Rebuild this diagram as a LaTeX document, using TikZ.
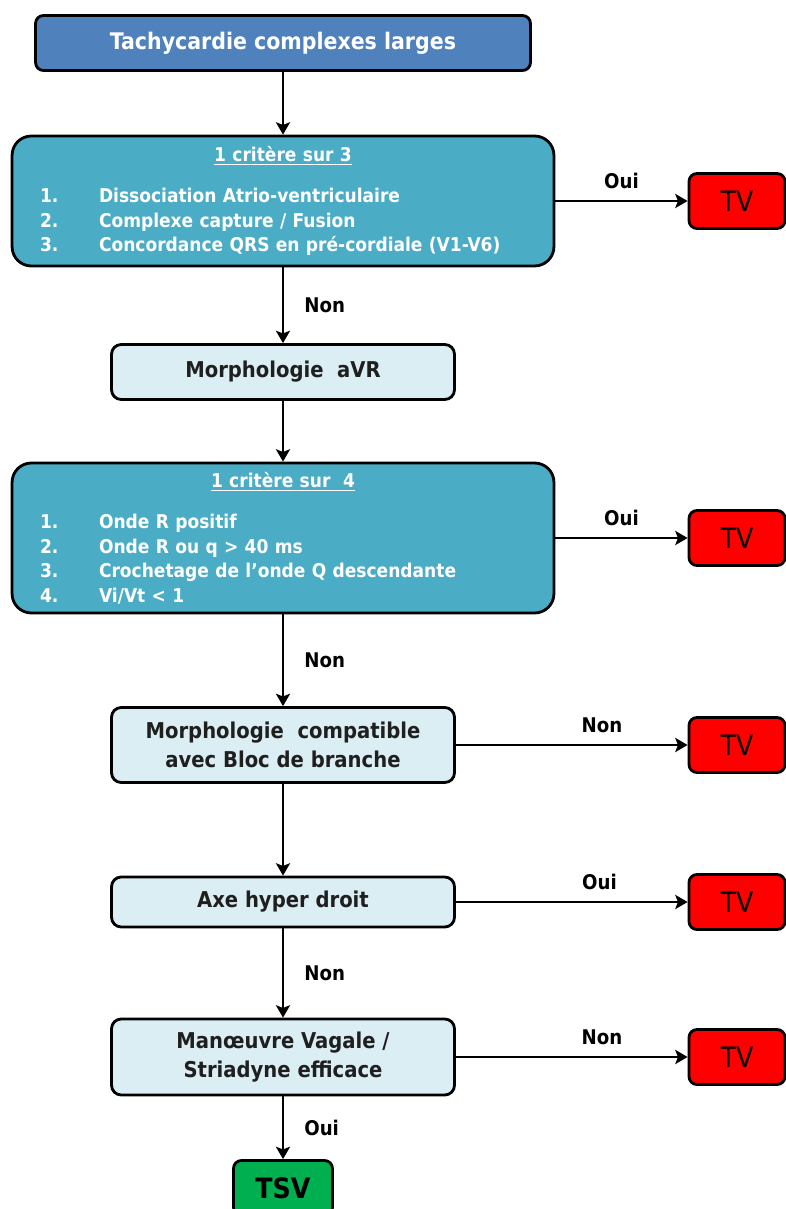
\documentclass[tikz,border=0pt]{standalone}
\usepackage{fontspec}
\setmainfont{DejaVu Sans Condensed}
\usepackage{tikz}
\usetikzlibrary{arrows.meta}
\usetikzlibrary{positioning}
\definecolor{titleblue}{HTML}{4F81BD}
\definecolor{critblue}{HTML}{4BACC6}
\definecolor{paleblue}{HTML}{DAEEF3}
\definecolor{tvred}{HTML}{FF0000}
\definecolor{tsvgreen}{HTML}{00B050}
\definecolor{darktext}{HTML}{1F1F1F}
\tikzstyle{titlebox} =
[
	draw,rectangle,line width=1.6pt,rounded corners=4.5pt,
	minimum width=9.9cm, minimum height=1.1cm,
	fill=titleblue, text=white,
	font=\fontsize{13}{15}\selectfont\bfseries
]
\tikzstyle{critbox} =
[
	draw,rectangle,line width=1.6pt,rounded corners=11pt,
	minimum width=10.84cm, inner xsep=0.56cm,
	text width=9.72cm, align=left,
	fill=critblue, text=white,
	font=\fontsize{10.8}{13.9}\selectfont\bfseries
]
\tikzstyle{stepbox} =
[
	draw,rectangle,line width=1.6pt,rounded corners=5.5pt,
	minimum width=6.86cm, align=center,
	fill=paleblue, text=darktext,
	font=\fontsize{12.4}{16.5}\selectfont\bfseries
]
\tikzstyle{tvbox} =
[
	draw,rectangle,line width=1.6pt,rounded corners=4.5pt,
	minimum width=1.92cm, minimum height=1.1cm,
	fill=tvred, font=\fontsize{16}{18}\selectfont
]
\tikzstyle{tsvbox} =
[
	draw,rectangle,line width=1.6pt,rounded corners=4.5pt,
	minimum width=1.98cm, minimum height=1.1cm,
	fill=tsvgreen, font=\fontsize{16}{18}\selectfont\bfseries
]
\tikzstyle{lab} = [font=\fontsize{11.5}{13}\selectfont\bfseries, text=black]

\begin{document}
\begin{tikzpicture}[->,>={Stealth[length=7pt,width=8pt,inset=1.5pt]},line width=1.6pt,x=0.02cm,y=-0.02cm]
\useasboundingbox (0,0) rectangle (786,1209);

\coordinate (col) at (737,0);

\node[titlebox] (T) at (283,43) {Tachycardie complexes larges};

\node[critbox, minimum height=2.6cm] (C1) at (283,201)
{\makebox[\linewidth]{\underline{1 critère sur 3}}\\[0.34cm]
\makebox[1.18cm][l]{1.}Dissociation Atrio-ventriculaire\\
\makebox[1.18cm][l]{2.}Complexe capture / Fusion\\
\makebox[1.18cm][l]{3.}Concordance QRS en pré-cordiale (V1-V6)};

\node[stepbox, minimum height=1.1cm] (M1) at (283,372) {Morphologie\ \ aVR};

\node[critbox, minimum height=3cm] (C2) at (283,538)
{\makebox[\linewidth]{\underline{1 critère sur\ \ 4}}\\[0.34cm]
\makebox[1.18cm][l]{1.}Onde R positif\\
\makebox[1.18cm][l]{2.}Onde R ou q > 40 ms\\
\makebox[1.18cm][l]{3.}Crochetage de l’onde Q descendante\\
\makebox[1.18cm][l]{4.}Vi/Vt < 1};

\node[stepbox, minimum height=1.5cm] (M2) at (283,745) {Morphologie\ \ compatible\\avec Bloc de branche};
\node[stepbox, minimum height=1cm] (M3) at (283,902) {Axe hyper droit};
\node[stepbox, minimum height=1.52cm] (M4) at (283,1057) {Manœuvre Vagale /\\Striadyne efficace};
\node[tsvbox] (S) at (283,1188) {TSV};

\node[tvbox] (V1) at (C1 -| col) {TV};
\node[tvbox] (V2) at (C2 -| col) {TV};
\node[tvbox] (V3) at (M2 -| col) {TV};
\node[tvbox] (V4) at (M3 -| col) {TV};
\node[tvbox] (V5) at (M4 -| col) {TV};

\path
	(T)  edge (C1)
	(C1) edge node[lab, right=8pt] {Non} (M1)
	(M1) edge (C2)
	(C2) edge node[lab, right=8pt] {Non} (M2)
	(M2) edge (M3)
	(M3) edge node[lab, right=8pt] {Non} (M4)
	(M4) edge node[lab, right=8pt] {Oui} (S);

\path
	(C1) edge node[lab, above=3pt] {Oui} (V1)
	(C2) edge node[lab, above=3pt] {Oui} (V2)
	(M2) edge node[lab, above=3pt, pos=0.63] {Non} (V3)
	(M3) edge node[lab, above=3pt, pos=0.62] {Oui} (V4)
	(M4) edge node[lab, above=3pt, pos=0.63] {Non} (V5);

\end{tikzpicture}
\end{document}
